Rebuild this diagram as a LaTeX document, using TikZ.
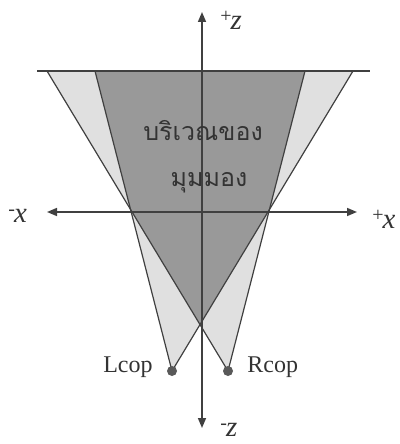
\documentclass[tikz,border=0pt]{standalone}
\usepackage{fontspec}
\setmainfont{Liberation Serif}
\newfontfamily\thaifont[Script=Thai]{Loma}
\usetikzlibrary{arrows.meta}

\newcommand{\axislbl}[2]{\raisebox{0.55ex}{\normalsize#1}\kern-0.5pt\textit{#2}}

\begin{document}
\begin{tikzpicture}[
        x=0.5pt, y=-0.5pt,
        cone_line/.style={draw=black!75, line width=0.6pt},
        axis_arrow/.style={{Triangle[length=5pt,width=4pt]}-{Triangle[length=5pt,width=4pt]}, draw=black!75, line width=0.8pt},
        axis_label/.style={font=\Large, text=black!80, inner sep=1pt},
        cop_label/.style={font=\large, text=black!80, inner sep=1pt},
        cop_dot/.style={circle, fill=black!65, inner sep=0pt, minimum size=5pt},
        area_label/.style={font=\thaifont\fontsize{12.5}{14}\selectfont, text=black!80, inner sep=0pt}
    ]
        \useasboundingbox (0,0) rectangle (400,444);

        % Points
        \coordinate (top_left) at (37,71);
        \coordinate (top_right) at (370,71);
        \coordinate (outer_left) at (47,71);
        \coordinate (inner_left) at (95,71);
        \coordinate (inner_right) at (305,71);
        \coordinate (outer_right) at (353,71);
        \coordinate (lcop) at (172,371);
        \coordinate (rcop) at (228,371);
        \coordinate (cross_left) at (intersection of lcop--inner_left and rcop--outer_left);
        \coordinate (cross_right) at (intersection of rcop--inner_right and lcop--outer_right);
        \coordinate (cross_mid) at (intersection of lcop--outer_right and rcop--outer_left);
        \coordinate (z_pos) at (202,12);
        \coordinate (z_neg) at (202,428);
        \coordinate (x_neg) at (47,212);
        \coordinate (x_pos) at (357,212);

        % Fields of view
        \fill[black!12] (lcop) -- (inner_left) -- (outer_right) -- cycle;
        \fill[black!12] (rcop) -- (outer_left) -- (inner_right) -- cycle;
        \fill[black!40] (inner_left) -- (inner_right) -- (cross_right) -- (cross_mid) -- (cross_left) -- cycle;

        % Lines
        \draw [cone_line] (top_left) -- (top_right);
        \draw [cone_line] (lcop) -- (inner_left);
        \draw [cone_line] (lcop) -- (outer_right);
        \draw [cone_line] (rcop) -- (outer_left);
        \draw [cone_line] (rcop) -- (inner_right);

        % Axes
        \draw [axis_arrow] (z_neg) -- (z_pos);
        \draw [axis_arrow] (x_neg) -- (x_pos);

        % Nodes
        \node (lcop_dot) [cop_dot] at (lcop) {};
        \node (rcop_dot) [cop_dot] at (rcop) {};
        \node (lcop_text) [cop_label, anchor=east] at (155,367) {Lcop};
        \node (rcop_text) [cop_label, anchor=west] at (245,367) {Rcop};
        \node (area_top) [area_label] at (203,131) {บริเวณของ};
        \node (area_bottom) [area_label] at (209,183) {มุมมอง};
        \node (z_pos_text) [axis_label, anchor=west] at (218,20) {\axislbl{+}{z}};
        \node (z_neg_text) [axis_label, anchor=west] at (218,430) {\axislbl{-}{z}};
        \node (x_neg_text) [axis_label, anchor=west] at (6,216) {\axislbl{-}{x}};
        \node (x_pos_text) [axis_label, anchor=west] at (370,219) {\axislbl{+}{x}};
    \end{tikzpicture}
\end{document}
